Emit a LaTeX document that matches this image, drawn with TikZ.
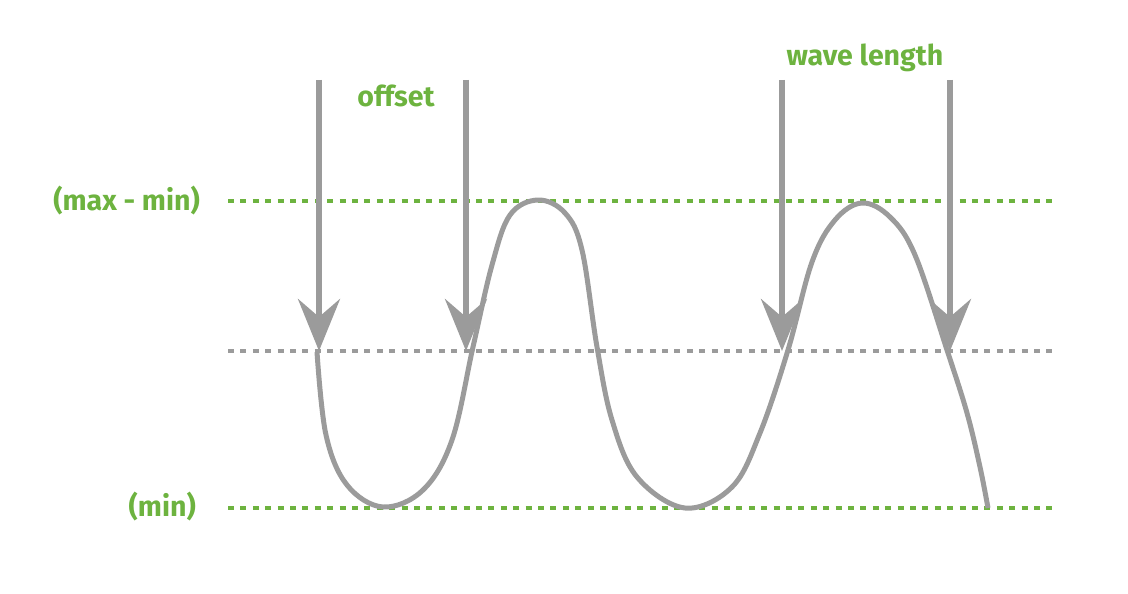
\documentclass[tikz,border=0pt]{standalone}
\usepackage{fontspec}
\setmainfont{Fira Sans}
\usetikzlibrary{arrows.meta}
\definecolor{lgreen}{HTML}{6DB33F}
\definecolor{lgray}{HTML}{9B9B9B}
\tikzset{
  guide/.style={line width=4.5pt, dash pattern=on 6pt off 6.4pt},
  pointer/.style={lgray, line width=6pt, -{Stealth[length=52pt,width=42pt,inset=18pt]}},
  wave/.style={lgray, line width=5pt},
  lbl/.style={text=lgreen, font=\fontsize{28.5}{32}\selectfont\bfseries, inner sep=0pt}
}
\begin{document}
\begin{tikzpicture}[x=1pt,y=-1pt]
\useasboundingbox (0,0) rectangle (1128,594);
% guide lines
\coordinate (maxL) at (228,201); \coordinate (maxR) at (1052,201);
\coordinate (midL) at (228,351); \coordinate (midR) at (1052,351);
\coordinate (minL) at (228,508); \coordinate (minR) at (1052,508);
\draw[guide, lgreen] (maxL) -- (maxR);
\draw[guide, lgray] (midL) -- (midR);
\draw[guide, lgreen] (minL) -- (minR);
% wave
\draw[wave, line join=round] plot[smooth, tension=0.6] coordinates {
(317,352) (326,435) (347,485) (383,507) (423,490) (452,440) (473,347) (492,265) (510,215) (538,200) (565,213) (582,250) (597,347) (612,420) (637,477) (685,508) (732,487) (760,433) (788,350) (812,262) (835,220) (862,203) (890,217) (915,255) (947,350) (967,413) (980,467) (988,508)};
% arrows
\coordinate (a1s) at (319,80); \coordinate (a1e) at (319,351);
\coordinate (a2s) at (466,80); \coordinate (a2e) at (466,351);
\coordinate (a3s) at (782,80); \coordinate (a3e) at (782,351);
\coordinate (a4s) at (950,80); \coordinate (a4e) at (950,351);
\draw[pointer] (a1s) -- (a1e);
\draw[pointer] (a2s) -- (a2e);
\draw[pointer] (a3s) -- (a3e);
\draw[pointer] (a4s) -- (a4e);
% labels
\node[lbl, anchor=east] (lmax) at (200,201) {(max - min)};
\node[lbl, anchor=east] (lmin) at (196,507) {(min)};
\node[lbl] (loff) at (396,96) {offset};
\node[lbl] (lwave) at (865,58) {wave length};
\end{tikzpicture}
\end{document}
